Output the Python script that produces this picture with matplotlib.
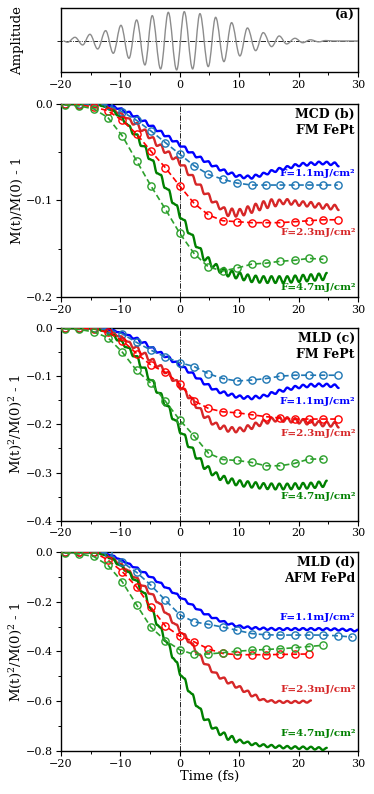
import numpy as np
import matplotlib
matplotlib.use('Agg')
import matplotlib.pyplot as plt
from matplotlib.path import Path
from matplotlib.patches import PathPatch
from matplotlib.ticker import MultipleLocator

plt.rcParams['font.family'] = ['DejaVu Serif']
plt.rcParams['mathtext.fontset'] = 'dejavuserif'

# ---------------- data ----------------
# (a) laser field: extrema times (fs) and normalised amplitudes
wave_t = [-19.6, -18.9, -17.64, -16.35, -15.12, -13.82, -12.48, -11.19, -9.9, -8.55,
          -7.26, -5.86, -4.63, -3.22, -1.93, -0.52, 0.76, 2.17, 3.40, 4.8,
          6.04, 7.44, 8.73, 10.13, 11.4, 12.78, 14.06, 15.47, 16.75, 18.0,
          19.4, 20.7, 22.0, 23.4, 24.6, 25.8, 30.0]
wave_a = [0.0, -0.045, 0.125, -0.136, 0.227, -0.273, 0.352, -0.420, 0.534, -0.591,
          0.716, -0.818, 0.864, -0.955, 0.977, -0.989, 1.0, -0.955, 0.932, -0.875,
          0.807, -0.705, 0.625, -0.511, 0.443, -0.330, 0.284, -0.193, 0.170, -0.102,
          0.091, -0.06, 0.04, -0.03, 0.015, 0.0, 0.0]

# sampling times of the open-circle (dashed) series
mk_t = [-19.35, -16.93, -14.51, -12.10, -9.68, -7.26, -4.84, -2.42, 0.0, 2.42,
        4.84, 7.26, 9.68, 12.10, 14.51, 16.93, 19.35, 21.77, 24.19, 26.61, 29.03]

# sampling times of the solid (oscillating) series
t_solid = np.round(np.arange(67) * 0.665 - 13.82, 3)

# (b) MCD FM FePt
b_blue_mk = [0, 0, 0, -0.001, -0.008, -0.017, -0.028, -0.040, -0.052, -0.064, -0.073,
             -0.078, -0.082, -0.084, -0.084, -0.084, -0.084, -0.084, -0.084, -0.084]
b_red_mk = [0, -0.001, -0.003, -0.007, -0.017, -0.031, -0.049, -0.066, -0.085, -0.103,
            -0.115, -0.121, -0.122, -0.123, -0.123, -0.123, -0.122, -0.121, -0.120, -0.120]
b_green_mk = [-0.001, -0.002, -0.005, -0.014, -0.033, -0.059, -0.085, -0.109, -0.134,
              -0.155, -0.169, -0.173, -0.170, -0.166, -0.165, -0.163, -0.162, -0.160, -0.161]
b_blue = [0.0, 0.0, -0.001, -0.002, -0.002, -0.005, -0.0045, -0.009, -0.008, -0.013,
          -0.0124, -0.0178, -0.0171, -0.0228, -0.0225, -0.0281, -0.0278, -0.0334, -0.0331, -0.0388,
          -0.0384, -0.0441, -0.0441, -0.0502, -0.050, -0.0553, -0.0546, -0.060, -0.0593, -0.0646,
          -0.0639, -0.0689, -0.0679, -0.0727, -0.0711, -0.0754, -0.0736, -0.0769, -0.0742, -0.0773,
          -0.0733, -0.0753, -0.0713, -0.0729, -0.0686, -0.0704, -0.0663, -0.0683, -0.0644, -0.0664,
          -0.0624, -0.0645, -0.0611, -0.0638, -0.0605, -0.0631, -0.0598, -0.0625, -0.0599, -0.0632,
          -0.0606, -0.0646]
b_red = [0.0, -0.001, -0.002, -0.0046, -0.0049, -0.0093, -0.0097, -0.0144, -0.015, -0.0213,
         -0.0197, -0.028, -0.0265, -0.0354, -0.0344, -0.0434, -0.042, -0.0506, -0.0492, -0.0572,
         -0.0552, -0.0636, -0.0636, -0.0736, -0.0736, -0.0835, -0.0835, -0.0934, -0.0927, -0.102,
         -0.1011, -0.1091, -0.1071, -0.1161, -0.1084, -0.1167, -0.1088, -0.1154, -0.1061, -0.1128,
         -0.1034, -0.1101, -0.1008, -0.1078, -0.0988, -0.106, -0.0991, -0.1038, -0.0986, -0.1043,
         -0.0999, -0.1055, -0.1009, -0.1062, -0.1016, -0.1073, -0.1029, -0.1085, -0.1039, -0.1092,
         -0.1045, -0.1099]
b_green = [0.0, -0.002, -0.003, -0.0058, -0.0068, -0.0118, -0.0132, -0.0199, -0.0225, -0.0314,
           -0.0315, -0.0435, -0.0438, -0.057, -0.0584, -0.0718, -0.0734, -0.087, -0.0888, -0.1028,
           -0.1048, -0.1186, -0.1203, -0.134, -0.1355, -0.1484, -0.1494, -0.1623, -0.1589, -0.1695,
           -0.1659, -0.1749, -0.1699, -0.1787, -0.1727, -0.1807, -0.1747, -0.1827, -0.1767, -0.1846,
           -0.1779, -0.1852, -0.1785, -0.1855, -0.1785, -0.1855, -0.1785, -0.1855, -0.1785, -0.1851,
           -0.1778, -0.1845, -0.1771, -0.1838, -0.1765, -0.1831, -0.1758, -0.1825, -0.1751]

# (c) MLD FM FePt
c_blue_mk = [0, 0, -0.001, -0.003, -0.012, -0.030, -0.046, -0.060, -0.072, -0.080,
             -0.095, -0.105, -0.110, -0.108, -0.105, -0.100, -0.098, -0.098, -0.098, -0.098]
c_red_mk = [0, 0, -0.002, -0.009, -0.026, -0.053, -0.077, -0.092, -0.116, -0.151,
            -0.167, -0.174, -0.176, -0.180, -0.184, -0.187, -0.189, -0.189, -0.189, -0.189]
c_green_mk = [-0.002, -0.003, -0.008, -0.020, -0.050, -0.088, -0.115, -0.152, -0.191,
              -0.224, -0.260, -0.273, -0.275, -0.279, -0.286, -0.286, -0.281, -0.272, -0.272]
c_blue = [0.0, -0.001, -0.002, -0.0045, -0.0045, -0.0085, -0.0088, -0.0138, -0.0148, -0.022,
          -0.0204, -0.0308, -0.0293, -0.0406, -0.0399, -0.0511, -0.0497, -0.0604, -0.0592, -0.0706,
          -0.0698, -0.0812, -0.0809, -0.0926, -0.0923, -0.1046, -0.105, -0.1171, -0.1164, -0.1277,
          -0.1265, -0.1352, -0.1318, -0.1404, -0.1364, -0.1444, -0.1401, -0.1468, -0.1415, -0.1478,
          -0.1408, -0.1458, -0.1386, -0.1419, -0.1332, -0.1367, -0.1283, -0.132, -0.1238, -0.1281,
          -0.1204, -0.1249, -0.1179, -0.1229, -0.116, -0.1216, -0.1153, -0.1211, -0.1158, -0.1224,
          -0.1172, -0.1245]
c_red = [-0.001, -0.003, -0.005, -0.0091, -0.009, -0.017, -0.0174, -0.0271, -0.0288, -0.0416,
         -0.0383, -0.055, -0.0515, -0.0678, -0.0642, -0.0806, -0.0772, -0.0938, -0.091, -0.1097,
         -0.1082, -0.127, -0.1263, -0.1457, -0.1452, -0.1658, -0.1665, -0.1865, -0.1834, -0.2003,
         -0.1966, -0.2096, -0.2026, -0.2151, -0.2058, -0.2165, -0.2066, -0.2143, -0.2019, -0.2095,
         -0.1965, -0.2035, -0.1906, -0.1983, -0.186, -0.1941, -0.1844, -0.1947, -0.1852, -0.1961,
         -0.1871, -0.1982, -0.1891, -0.2001, -0.1911, -0.2021, -0.1931, -0.204, -0.1944, -0.2047,
         -0.1952, -0.2065]
c_green = [-0.0008, -0.0058, -0.0068, -0.0145, -0.0141, -0.0258, -0.026, -0.0397, -0.0413, -0.0588,
           -0.0585, -0.0823, -0.0822, -0.1074, -0.1088, -0.1342, -0.1354, -0.1606, -0.1624, -0.1895,
           -0.1923, -0.2189, -0.221, -0.2471, -0.2483, -0.2712, -0.2703, -0.2924, -0.287, -0.3056,
           -0.2997, -0.3154, -0.307, -0.3224, -0.3124, -0.3264, -0.3162, -0.3292, -0.3182, -0.3312,
           -0.3202, -0.3332, -0.3221, -0.3344, -0.3227, -0.335, -0.323, -0.335, -0.323, -0.3346,
           -0.3223, -0.334, -0.3216, -0.3333, -0.3211, -0.3319, -0.3189, -0.3299, -0.3169]

# (d) MLD AFM FePd
d_blue_mk = [0, 0, 0, -0.005, -0.041, -0.082, -0.134, -0.194, -0.252, -0.281, -0.291,
             -0.302, -0.315, -0.328, -0.333, -0.334, -0.334, -0.334, -0.334, -0.337, -0.342]
d_red_mk = [0, 0, 0, -0.032, -0.079, -0.140, -0.223, -0.298, -0.338, -0.361, -0.390,
            -0.408, -0.413, -0.413, -0.413, -0.412, -0.411, -0.410]
d_green_mk = [-0.004, -0.008, -0.018, -0.053, -0.120, -0.213, -0.303, -0.356, -0.393, -0.412,
              -0.410, -0.405, -0.399, -0.395, -0.392, -0.389, -0.385, -0.380, -0.375]
d_blue = [0.0, -0.0044, -0.005, -0.012, -0.0152, -0.0265, -0.0301, -0.0425, -0.0468, -0.0612,
          -0.0626, -0.080, -0.0815, -0.0997, -0.1021, -0.1206, -0.1235, -0.1424, -0.1455, -0.1645,
          -0.1674, -0.1863, -0.1894, -0.2084, -0.2112, -0.2298, -0.2325, -0.2506, -0.2502, -0.2658,
          -0.2652, -0.2796, -0.2779, -0.2917, -0.2877, -0.2998, -0.2954, -0.3053, -0.2994, -0.3092,
          -0.3022, -0.3112, -0.3041, -0.3128, -0.3054, -0.314, -0.306, -0.314, -0.306, -0.314,
          -0.306, -0.314, -0.306, -0.314, -0.306, -0.314, -0.306, -0.314, -0.3064, -0.3147,
          -0.3071, -0.3157, -0.3084, -0.3171, -0.3101, -0.3191, -0.312]
d_red = [-0.0004, -0.0073, -0.0103, -0.022, -0.0249, -0.0438, -0.0476, -0.0696, -0.0755, -0.101,
         -0.1038, -0.1345, -0.137, -0.1675, -0.1703, -0.202, -0.2088, -0.2436, -0.2507, -0.2854,
         -0.2919, -0.3259, -0.3303, -0.3627, -0.3679, -0.405, -0.4145, -0.4505, -0.453, -0.4835,
         -0.485, -0.509, -0.5049, -0.5285, -0.5229, -0.5453, -0.5396, -0.5625, -0.5576, -0.5804,
         -0.574, -0.5956, -0.5914, -0.6017, -0.596, -0.606, -0.5984, -0.6067, -0.599, -0.607,
         -0.599, -0.6069, -0.5982, -0.6056, -0.597]
d_green = [-0.0024, -0.0097, -0.0131, -0.0253, -0.0295, -0.0498, -0.0544, -0.0758, -0.081, -0.1108,
           -0.1149, -0.159, -0.1656, -0.2213, -0.2375, -0.2928, -0.3048, -0.3568, -0.3701, -0.4263,
           -0.4419, -0.4967, -0.5085, -0.5603, -0.5711, -0.6198, -0.6289, -0.6756, -0.6728, -0.710,
           -0.706, -0.736, -0.7259, -0.7549, -0.7399, -0.765, -0.7547, -0.7687, -0.7627, -0.7764,
           -0.7687, -0.781, -0.7732, -0.7846, -0.7759, -0.7872, -0.7782, -0.7892, -0.7801, -0.7908,
           -0.7814, -0.792, -0.7824, -0.7927, -0.7831, -0.7941, -0.7851, -0.7962, -0.7875]

fluence_labels = ['F=1.1mJ/cm²', 'F=2.3mJ/cm²', 'F=4.7mJ/cm²']

# ---------------- styling ----------------
C_SOLID = ['#0000ff', '#d62728', '#008000']
C_DASH = ['#1f77b4', '#ff0000', '#2ca02c']
C_LABEL = ['#0000ff', '#d62728', '#008000']


def smooth_path(t, y):
    verts = [(t[0], y[0])]
    codes = [Path.MOVETO]
    for i in range(len(t) - 1):
        h = 0.3642 * (t[i + 1] - t[i])
        verts += [(t[i] + h, y[i]), (t[i + 1] - h, y[i + 1]), (t[i + 1], y[i + 1])]
        codes += [Path.CURVE4] * 3
    return Path(verts, codes)


def style_axis(ax, ylim, ymajor, yminor, ylabel):
    ax.set_xlim(-20, 30)
    ax.set_ylim(*ylim)
    ax.xaxis.set_major_locator(MultipleLocator(10))
    ax.xaxis.set_minor_locator(MultipleLocator(5))
    ax.yaxis.set_major_locator(MultipleLocator(ymajor))
    ax.yaxis.set_minor_locator(MultipleLocator(yminor))
    ax.tick_params(which='major', direction='out', length=3.5, width=0.8, labelsize=8, pad=2)
    ax.tick_params(which='minor', direction='out', length=2.5, width=0.7)
    for s in ax.spines.values():
        s.set_linewidth(1.0)
    ax.set_ylabel(ylabel, fontsize=9.5)
    ax.yaxis.set_label_coords(-0.125, 0.5)
    ax.axvline(0, color='black', lw=0.6, ls='-.', zorder=1)


def draw_panel(ax, solids, marks, title1, title2, label_y):
    for vals, c in zip(solids, C_SOLID):
        t = [-20.0] + list(t_solid[:len(vals)])
        y = [0.0] + list(vals)
        ax.add_patch(PathPatch(smooth_path(t, y), fill=False, edgecolor=c, lw=1.7,
                               capstyle='round', joinstyle='round', zorder=3))
    for vals, c in zip(marks, C_DASH):
        ax.plot(mk_t[:len(vals)], vals, ls='--', color=c, lw=1.2, marker='o', ms=5.2,
                mfc='none', mec=c, mew=1.0, zorder=4, dashes=(3.5, 2.0))
    for lab, ly, c in zip(fluence_labels, label_y, C_LABEL):
        ax.text(29.6, ly, lab, color=c, fontsize=7.5, fontweight='bold',
                ha='right', va='center', zorder=5)
    ax.text(0.99, 0.948, title1, transform=ax.transAxes, fontsize=9, fontweight='bold',
            ha='right', va='center')
    ax.text(0.99, 0.865, title2, transform=ax.transAxes, fontsize=9, fontweight='bold',
            ha='right', va='center')


fig = plt.figure(figsize=(3.74, 7.94), dpi=100)
ax_a = fig.add_axes([0.163, 0.909, 0.794, 0.0806])
ax_b = fig.add_axes([0.163, 0.626, 0.794, 0.243])
ax_c = fig.add_axes([0.163, 0.3442, 0.794, 0.2427])
ax_d = fig.add_axes([0.163, 0.0542, 0.794, 0.2506])

# (a)
ax_a.set_xlim(-20, 30)
ax_a.set_ylim(-1.068, 1.116)
ax_a.xaxis.set_major_locator(MultipleLocator(10))
ax_a.xaxis.set_minor_locator(MultipleLocator(5))
ax_a.set_yticks([])
ax_a.tick_params(which='major', direction='out', length=3.5, width=0.8, labelsize=8, pad=2)
ax_a.tick_params(which='minor', direction='out', length=2.5, width=0.7)
for s in ax_a.spines.values():
    s.set_linewidth(1.0)
ax_a.axhline(0, xmin=-0.015, xmax=1.0, color='black', lw=0.6, ls='-.', clip_on=False, zorder=1)
ax_a.add_patch(PathPatch(smooth_path(wave_t, wave_a), fill=False, edgecolor='#8c8c8c', lw=1.0,
                         zorder=2))
ax_a.set_ylabel('Amplitude', fontsize=9.5)
ax_a.yaxis.set_label_coords(-0.125, 0.5)
ax_a.text(0.99, 0.88, '(a)', transform=ax_a.transAxes, fontsize=9, fontweight='bold',
          ha='right', va='center')

# (b)
style_axis(ax_b, (-0.2, 0.0), 0.1, 0.05, 'M(t)/M(0) - 1')
draw_panel(ax_b, [b_blue, b_red, b_green], [b_blue_mk, b_red_mk, b_green_mk],
           'MCD (b)', 'FM FePt', [-0.0725, -0.1337, -0.1907])

# (c)
style_axis(ax_c, (-0.4, 0.0), 0.1, 0.05, 'M(t)$^2$/M(0)$^2$ - 1')
draw_panel(ax_c, [c_blue, c_red, c_green], [c_blue_mk, c_red_mk, c_green_mk],
           'MLD (c)', 'FM FePt', [-0.152, -0.219, -0.350])

# (d)
style_axis(ax_d, (-0.8, 0.0), 0.2, 0.1, 'M(t)$^2$/M(0)$^2$ - 1')
draw_panel(ax_d, [d_blue, d_red, d_green], [d_blue_mk, d_red_mk, d_green_mk],
           'MLD (d)', 'AFM FePd', [-0.265, -0.553, -0.728])
ax_d.set_xlabel('Time (fs)', fontsize=9.5, labelpad=1)

fig.savefig('out.png', dpi=100)
